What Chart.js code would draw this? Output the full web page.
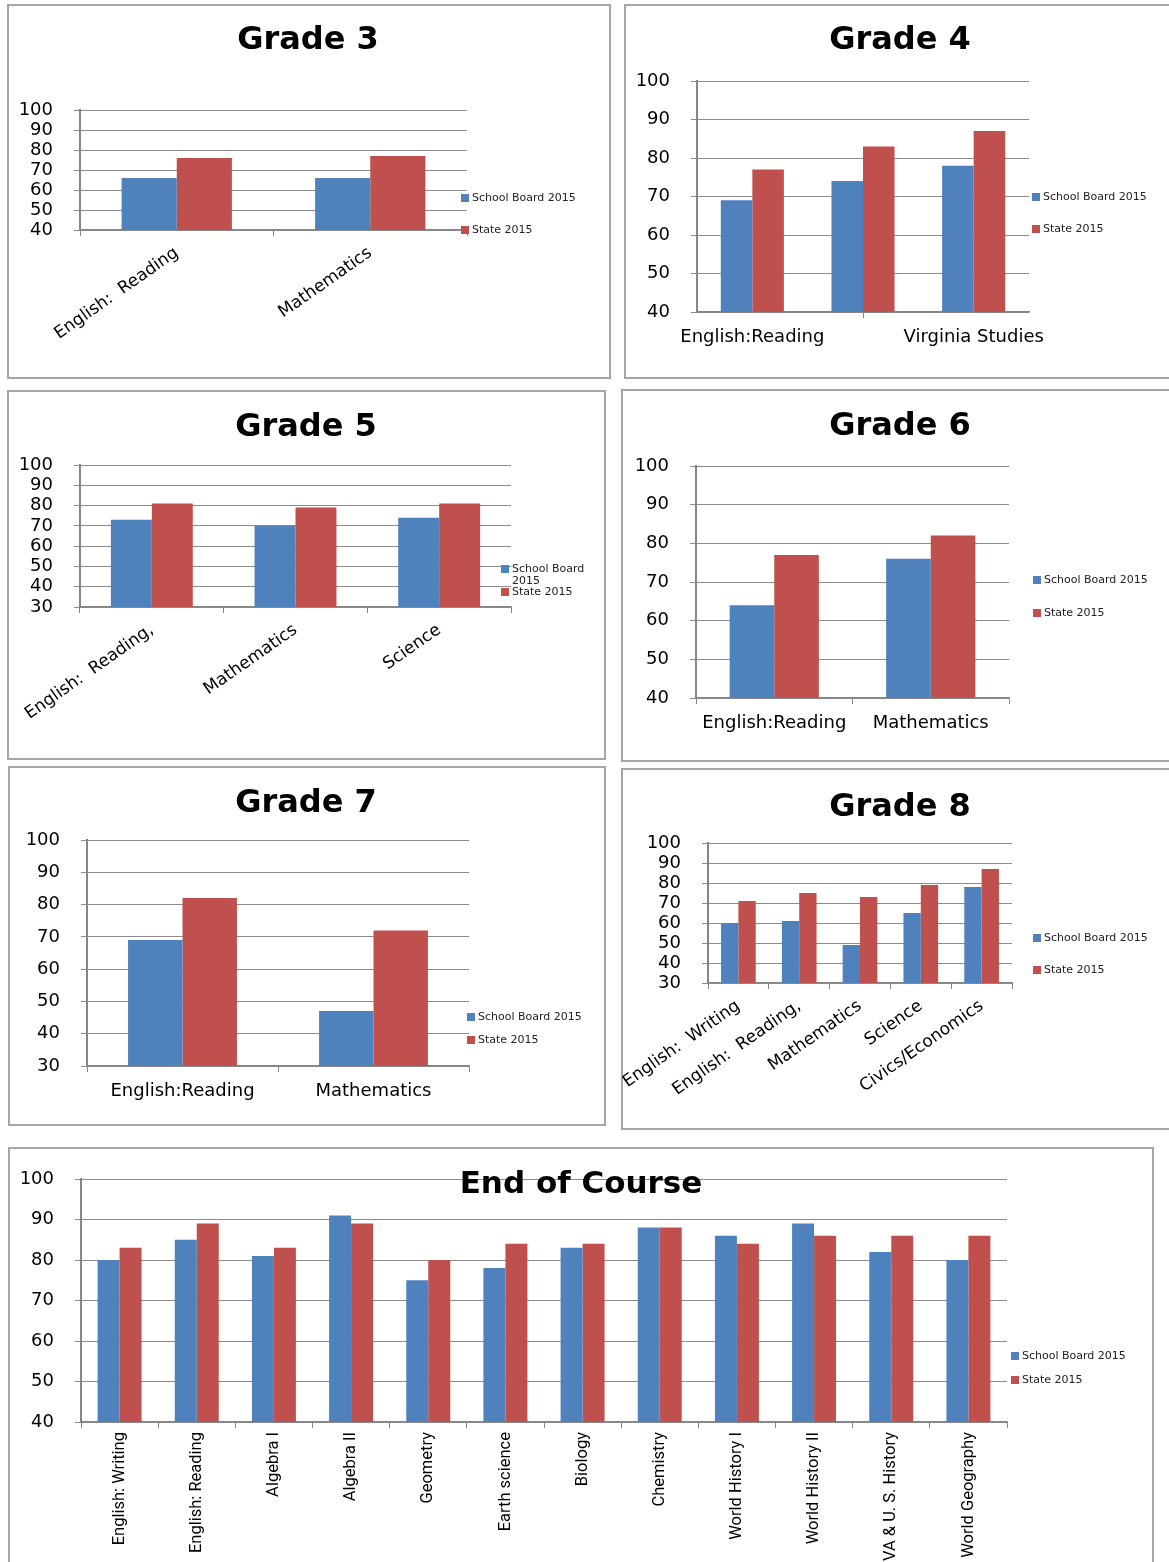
<!DOCTYPE html>
<html>
<head>
<meta charset="utf-8">
<script src="https://cdn.jsdelivr.net/npm/chart.js@4.4.0/dist/chart.umd.min.js"></script>
<style>
body { margin: 0; background: #fff; width: 1169px; height: 1562px; position: relative; overflow: hidden; }
.panel { position: absolute; border: 2px solid #a6a6a6; box-sizing: border-box; }
canvas { position: absolute; }
.title { position: absolute; font: bold 32px "DejaVu Sans", sans-serif; color: #000; transform: translate(-50%, -50%); white-space: nowrap; z-index: 2; }
.item { position: absolute; font: 11px "DejaVu Sans", sans-serif; color: #222; line-height: 11.5px; padding-left: 11px; white-space: nowrap; }
.item span { position: absolute; left: 0; top: 2px; width: 8px; height: 8px; }
</style>
</head>
<body>
<script>
var seriesNames = ['School Board 2015', 'State 2015'];
var seriesColors = ['#4F81BD', '#C0504D'];

var grade3Labels = ['English:  Reading', 'Mathematics'];
var grade3Board = [66, 66];
var grade3State = [76, 77];

var grade4Labels = ['English:Reading', 'Mathematics', 'Virginia Studies'];
var grade4Board = [69, 74, 78];
var grade4State = [77, 83, 87];

var grade5Labels = ['English:  Reading,', 'Mathematics', 'Science'];
var grade5Board = [73, 70, 74];
var grade5State = [81, 79, 81];

var grade6Labels = ['English:Reading', 'Mathematics'];
var grade6Board = [64, 76];
var grade6State = [77, 82];

var grade7Labels = ['English:Reading', 'Mathematics'];
var grade7Board = [69, 47];
var grade7State = [82, 72];

var grade8Labels = ['English:  Writing', 'English:  Reading,', 'Mathematics', 'Science', 'Civics/Economics'];
var grade8Board = [60, 61, 49, 65, 78];
var grade8State = [71, 75, 73, 79, 87];

var eocLabels = ['English: Writing', 'English: Reading', 'Algebra I', 'Algebra II', 'Geometry', 'Earth science',
    'Biology', 'Chemistry', 'World History I', 'World History II', 'VA & U. S. History', 'World Geography'];
var eocBoard = [80, 85, 81, 91, 75, 78, 83, 88, 86, 89, 82, 80];
var eocState = [83, 89, 83, 89, 80, 84, 84, 88, 84, 86, 86, 86];

var yMins = { g3: 40, g4: 40, g5: 30, g6: 40, g7: 30, g8: 30, eoc: 40 };

// box = panel [l, t, r, b], plot = chart area [l, t, r, b]
var charts = [
    { title: 'Grade 3', labels: grade3Labels, board: grade3Board, state: grade3State, min: yMins.g3,
      box: [7, 4, 611, 379], plot: [80, 110, 467, 230], rot: 35, xSize: 17, titlePos: [308, 38],
      legend: [[461, 198], [461, 230]] },
    { title: 'Grade 4', labels: grade4Labels, board: grade4Board, state: grade4State, min: yMins.g4,
      box: [624, 4, 1172, 379], plot: [697, 81, 1029, 312], rot: 0, xSize: 18, titlePos: [900, 38], autoSkip: true,
      legend: [[1032, 197], [1032, 229]] },
    { title: 'Grade 5', labels: grade5Labels, board: grade5Board, state: grade5State, min: yMins.g5,
      box: [7, 390, 606, 760], plot: [80, 465, 511, 607], rot: 35, xSize: 17, titlePos: [306, 425],
      legend: [[501, 569], [501, 592]], wrap: 75 },
    { title: 'Grade 6', labels: grade6Labels, board: grade6Board, state: grade6State, min: yMins.g6,
      box: [621, 389, 1172, 762], plot: [696, 466, 1009, 698], rot: 0, xSize: 18, titlePos: [900, 424],
      legend: [[1033, 580], [1033, 613]] },
    { title: 'Grade 7', labels: grade7Labels, board: grade7Board, state: grade7State, min: yMins.g7,
      box: [8, 766, 606, 1126], plot: [87, 840, 469, 1066], rot: 0, xSize: 18, titlePos: [306, 801],
      legend: [[467, 1017], [467, 1040]] },
    { title: 'Grade 8', labels: grade8Labels, board: grade8Board, state: grade8State, min: yMins.g8,
      box: [621, 768, 1172, 1130], plot: [708, 843, 1012, 983], rot: 35, xSize: 17, titlePos: [900, 805],
      legend: [[1033, 938], [1033, 970]] },
    { title: 'End of Course', labels: eocLabels, board: eocBoard, state: eocState, min: yMins.eoc,
      box: [8, 1147, 1154, 1566], plot: [81, 1179, 1007, 1422], rot: 90, xSize: 16.5, titlePos: [581, 1182],
      titleSize: 31, xFamily: "Roboto, sans-serif",
      legend: [[1011, 1356], [1011, 1380]] }
];

function makeChart(c) {
    var box = c.box, plot = c.plot;
    var w = box[2] - box[0], h = box[3] - box[1];

    var panel = document.createElement('div');
    panel.className = 'panel';
    panel.style.left = box[0] + 'px';
    panel.style.top = box[1] + 'px';
    panel.style.width = w + 'px';
    panel.style.height = h + 'px';
    document.body.appendChild(panel);

    var cv = document.createElement('canvas');
    cv.width = w;
    cv.height = h;
    cv.style.left = box[0] + 'px';
    cv.style.top = box[1] + 'px';
    document.body.appendChild(cv);

    new Chart(cv, {
        type: 'bar',
        data: {
            labels: c.labels,
            datasets: [
                { label: seriesNames[0], data: c.board, backgroundColor: seriesColors[0] },
                { label: seriesNames[1], data: c.state, backgroundColor: seriesColors[1] }
            ]
        },
        options: {
            responsive: false,
            animation: false,
            layout: { padding: { top: plot[1] - box[1], right: box[2] - plot[2], left: 0, bottom: 0 } },
            plugins: { legend: { display: false }, tooltip: { enabled: false } },
            datasets: { bar: { categoryPercentage: 0.57, barPercentage: 1 } },
            scales: {
                x: {
                    grid: { drawOnChartArea: false, tickLength: 6, color: '#868686' },
                    border: { color: '#868686', width: 1.5 },
                    ticks: {
                        color: '#000',
                        font: { family: c.xFamily || '"DejaVu Sans", sans-serif', size: c.xSize },
                        minRotation: c.rot, maxRotation: c.rot,
                        autoSkip: !!c.autoSkip,
                        padding: c.rot === 0 ? 9 : (c.rot === 90 ? 4 : 7)
                    },
                    afterFit: function (s) {
                        s.height = box[3] - plot[3];
                        s.paddingLeft = 0;
                        s.paddingRight = 0;
                    }
                },
                y: {
                    min: c.min,
                    max: 100,
                    ticks: { stepSize: 10, autoSkip: false, color: '#000', padding: 21, font: { family: '"DejaVu Sans", sans-serif', size: 18 } },
                    grid: { color: '#8c8c8c', tickLength: 6 },
                    border: { color: '#868686', width: 2 },
                    afterFit: function (s) { s.width = plot[0] - box[0]; }
                }
            }
        }
    });

    var t = document.createElement('div');
    t.className = 'title';
    t.textContent = c.title;
    t.style.left = c.titlePos[0] + 'px';
    t.style.top = c.titlePos[1] + 'px';
    if (c.titleSize) t.style.fontSize = c.titleSize + 'px';
    document.body.appendChild(t);

    c.legend.forEach(function (pos, i) {
        var it = document.createElement('div');
        it.className = 'item';
        it.style.left = pos[0] + 'px';
        it.style.top = (pos[1] - 6) + 'px';
        if (c.wrap && i === 0) { it.style.whiteSpace = 'normal'; it.style.width = c.wrap + 'px'; }
        var sw = document.createElement('span');
        sw.style.background = seriesColors[i];
        it.appendChild(sw);
        it.appendChild(document.createTextNode(seriesNames[i]));
        document.body.appendChild(it);
    });
}

charts.forEach(makeChart);
</script>
</body>
</html>
